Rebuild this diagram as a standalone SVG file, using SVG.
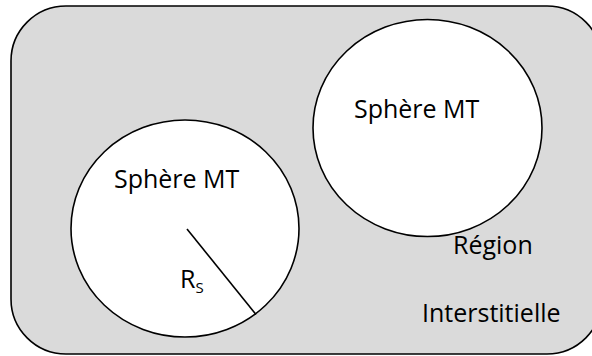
<svg xmlns="http://www.w3.org/2000/svg" width="592" height="356" viewBox="0 0 592 356">
<style>
.lbl{font-family:"Open Sans","Liberation Sans",sans-serif;font-size:25px;fill:#000}
.sphere{fill:#fff;stroke:#000;stroke-width:1.6}
</style>
<rect width="592" height="356" fill="#fff"/>
<g id="region">
<rect x="11" y="6" width="591" height="348" rx="55" ry="55" fill="#dadada" stroke="#000" stroke-width="1.6"/>
<text class="lbl" x="453" y="254">Région</text>
<text class="lbl" x="422" y="322">Interstitielle</text>
</g>
<g id="sphere1">
<ellipse class="sphere" cx="185" cy="228.5" rx="114" ry="108.5"/>
<text class="lbl" x="114" y="188">Sphère MT</text>
</g>
<g id="sphere2">
<ellipse class="sphere" cx="427.5" cy="128" rx="114.5" ry="108.5"/>
<text class="lbl" x="354" y="118">Sphère MT</text>
</g>
<g id="connectors">
<line x1="187" y1="229" x2="256" y2="314.5" stroke="#000" stroke-width="1.6"/>
<text class="lbl" x="180" y="288">R<tspan font-size="15" dy="5">S</tspan></text>
</g>
</svg>
